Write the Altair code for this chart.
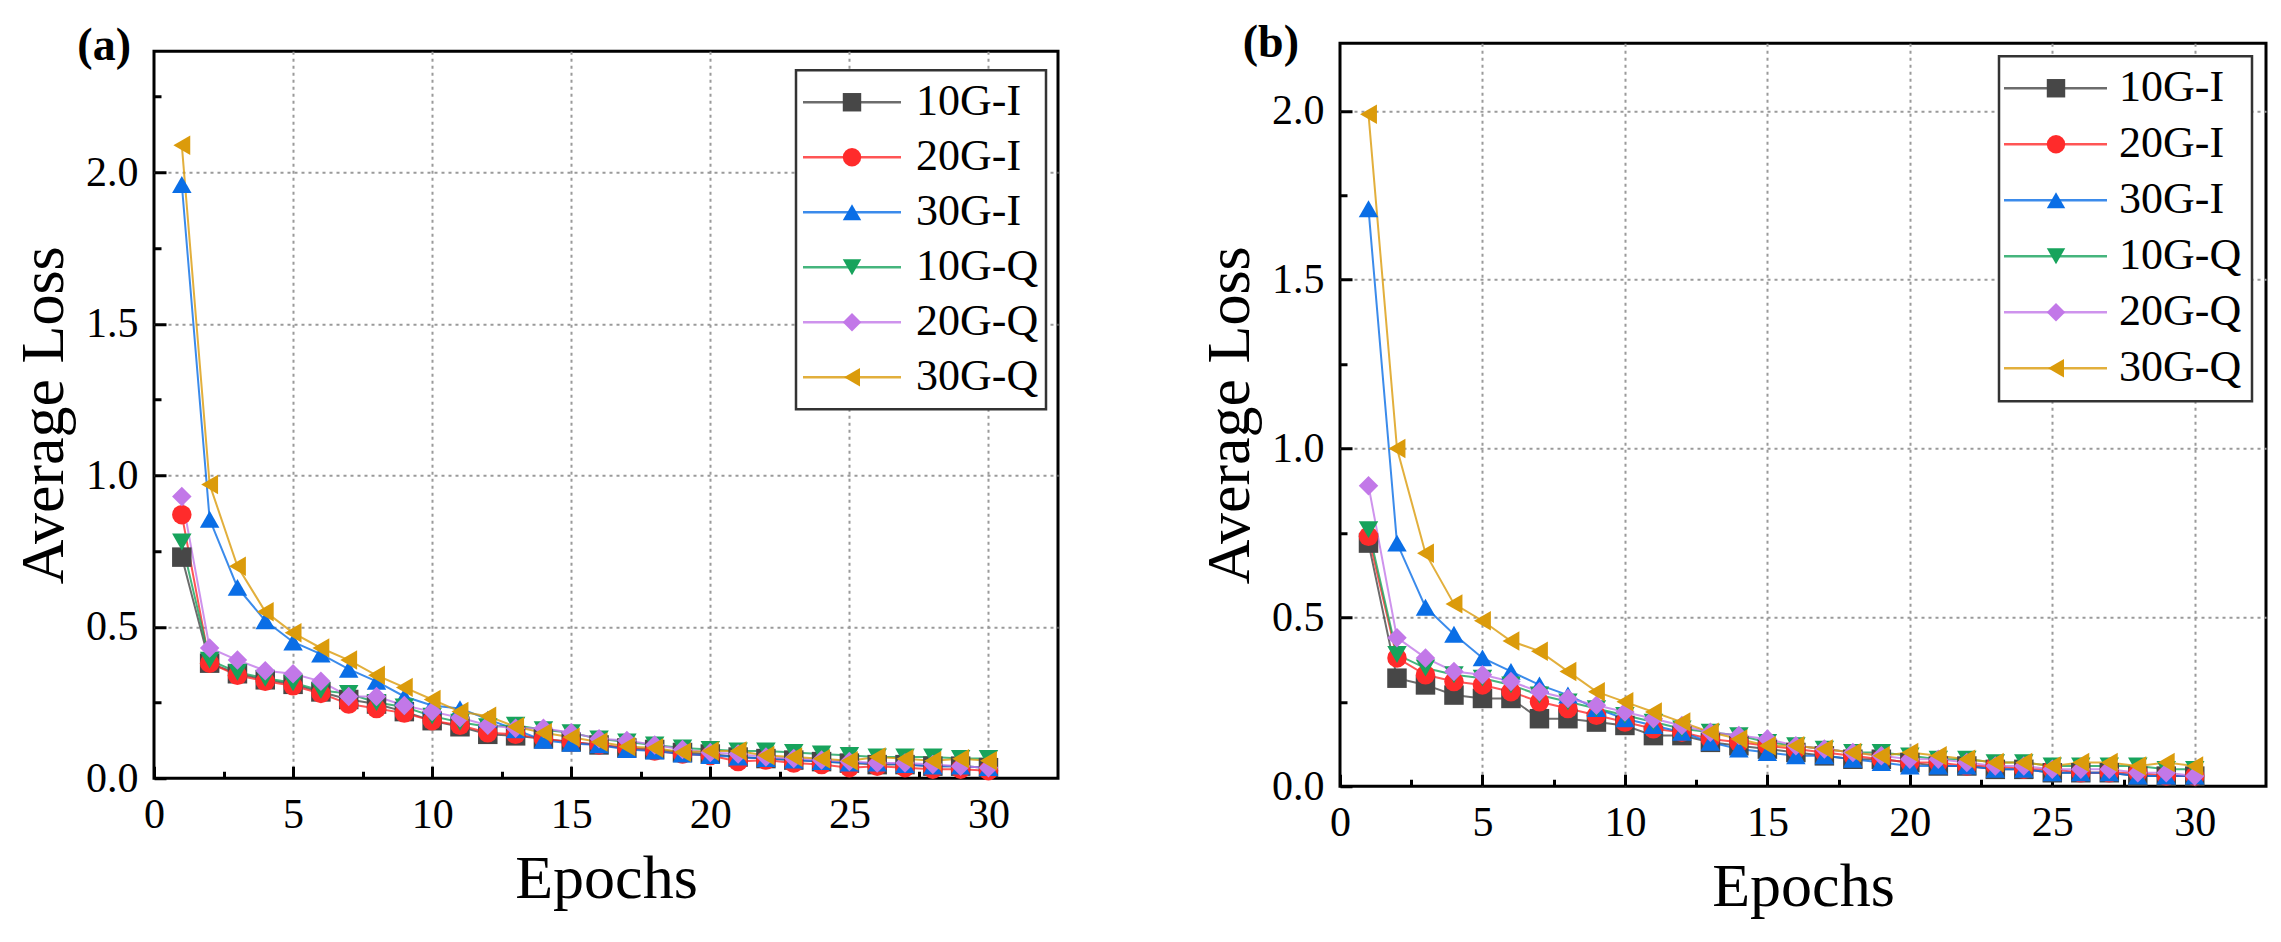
import altair as alt
import pandas as pd

FONT = "Times New Roman, Liberation Serif, serif"

SERIES = ["10G-I", "20G-I", "30G-I", "10G-Q", "20G-Q", "30G-Q"]
COLORS = ["#474747", "#ff2b2b", "#0a6ee6", "#17a35c", "#c278e8", "#db9b0b"]
SHAPES = ["square", "circle", "triangle-up", "triangle-down", "diamond", "triangle-left"]

EPOCHS = [1, 2, 3, 4, 5, 6, 7, 8, 9, 10, 11, 12, 13, 14, 15,
          16, 17, 18, 19, 20, 21, 22, 23, 24, 25, 26, 27, 28, 29, 30]

# ---- panel (a) ----
A_10GI = [0.73, 0.38, 0.345, 0.325, 0.31, 0.285, 0.26, 0.245, 0.22, 0.19, 0.17, 0.145, 0.14, 0.13, 0.12,
          0.11, 0.10, 0.095, 0.085, 0.08, 0.07, 0.065, 0.06, 0.055, 0.05, 0.045, 0.045, 0.04, 0.04, 0.035]
A_20GI = [0.87, 0.38, 0.34, 0.32, 0.305, 0.28, 0.245, 0.23, 0.215, 0.19, 0.175, 0.15, 0.145, 0.13, 0.12,
          0.11, 0.10, 0.09, 0.08, 0.075, 0.055, 0.06, 0.05, 0.045, 0.035, 0.04, 0.035, 0.03, 0.03, 0.025]
A_30GI = [1.96, 0.855, 0.63, 0.52, 0.45, 0.41, 0.36, 0.32, 0.27, 0.24, 0.23, 0.195, 0.16, 0.125, 0.115,
          0.11, 0.095, 0.09, 0.08, 0.075, 0.07, 0.065, 0.06, 0.055, 0.05, 0.05, 0.045, 0.04, 0.04, 0.035]
A_10GQ = [0.78, 0.39, 0.35, 0.33, 0.315, 0.29, 0.28, 0.25, 0.235, 0.205, 0.185, 0.17, 0.175, 0.16, 0.15,
          0.13, 0.12, 0.11, 0.10, 0.095, 0.09, 0.09, 0.085, 0.08, 0.075, 0.07, 0.07, 0.07, 0.065, 0.065]
A_20GQ = [0.93, 0.43, 0.39, 0.355, 0.345, 0.32, 0.27, 0.27, 0.24, 0.22, 0.20, 0.175, 0.165, 0.165, 0.15,
          0.13, 0.125, 0.11, 0.095, 0.085, 0.08, 0.07, 0.065, 0.06, 0.055, 0.05, 0.05, 0.045, 0.04, 0.035]
A_30GQ = [2.09, 0.97, 0.70, 0.55, 0.48, 0.43, 0.39, 0.34, 0.30, 0.26, 0.22, 0.205, 0.17, 0.15, 0.135,
          0.12, 0.105, 0.10, 0.086, 0.09, 0.09, 0.075, 0.07, 0.064, 0.058, 0.07, 0.064, 0.058, 0.064, 0.058]

# ---- panel (b) ----
B_10GI = [0.72, 0.32, 0.30, 0.27, 0.26, 0.26, 0.20, 0.20, 0.19, 0.18, 0.15, 0.15, 0.13, 0.12, 0.11,
          0.10, 0.09, 0.08, 0.08, 0.07, 0.06, 0.06, 0.05, 0.05, 0.04, 0.04, 0.04, 0.03, 0.03, 0.03]
B_20GI = [0.74, 0.38, 0.33, 0.31, 0.30, 0.28, 0.25, 0.23, 0.21, 0.19, 0.17, 0.16, 0.14, 0.13, 0.12,
          0.11, 0.10, 0.09, 0.08, 0.07, 0.07, 0.06, 0.06, 0.05, 0.05, 0.04, 0.04, 0.04, 0.03, 0.03]
B_30GI = [1.71, 0.72, 0.53, 0.45, 0.38, 0.34, 0.30, 0.27, 0.23, 0.20, 0.18, 0.16, 0.13, 0.11, 0.10,
          0.09, 0.09, 0.08, 0.07, 0.06, 0.06, 0.06, 0.05, 0.05, 0.04, 0.04, 0.04, 0.03, 0.03, 0.03]
B_10GQ = [0.76, 0.39, 0.35, 0.33, 0.32, 0.30, 0.27, 0.25, 0.23, 0.21, 0.19, 0.17, 0.16, 0.15, 0.13,
          0.12, 0.11, 0.10, 0.10, 0.09, 0.08, 0.08, 0.07, 0.07, 0.06, 0.06, 0.06, 0.06, 0.05, 0.05]
B_20GQ = [0.89, 0.44, 0.38, 0.34, 0.33, 0.31, 0.28, 0.26, 0.24, 0.22, 0.20, 0.18, 0.16, 0.15, 0.14,
          0.12, 0.11, 0.10, 0.09, 0.08, 0.08, 0.07, 0.06, 0.06, 0.05, 0.05, 0.05, 0.04, 0.04, 0.03]
B_30GQ = [1.99, 1.00, 0.69, 0.54, 0.49, 0.43, 0.40, 0.34, 0.28, 0.25, 0.22, 0.19, 0.16, 0.14, 0.12,
          0.12, 0.11, 0.10, 0.09, 0.10, 0.09, 0.08, 0.07, 0.07, 0.06, 0.07, 0.07, 0.06, 0.07, 0.06]

X_LABELS = [0, 5, 10, 15, 20, 25, 30]
X_TICKS = [0, 2.5, 5, 7.5, 10, 12.5, 15, 17.5, 20, 22.5, 25, 27.5, 30]
Y_LABELS = [0.0, 0.5, 1.0, 1.5, 2.0]
Y_TICKS_A = [0, 0.25, 0.5, 0.75, 1.0, 1.25, 1.5, 1.75, 2.0, 2.25]
Y_TICKS_B = [0, 0.25, 0.5, 0.75, 1.0, 1.25, 1.5, 1.75, 2.0]


def long_df(cols):
    rows = []
    for s, vals in zip(SERIES, cols):
        for e, v in zip(EPOCHS, vals):
            rows.append({"series": s, "epoch": e, "loss": v})
    return pd.DataFrame(rows)


color_enc = alt.Color("series:N", scale=alt.Scale(domain=SERIES, range=COLORS), legend=None)
shape_enc = alt.Shape("series:N", scale=alt.Scale(domain=SERIES, range=SHAPES), legend=None)


def panel(df, W, H, ymax, yticks, label, lab_dx, lab_dy, leg):
    xs = alt.Scale(domain=[0, 32.5], nice=False, zero=False)
    ys = alt.Scale(domain=[0, ymax], nice=False, zero=False)
    grid_color = {"condition": {"test": "datum.value === 0", "value": "transparent"}, "value": "#9a9a9a"}

    lines = alt.Chart(df).mark_line(strokeWidth=2, opacity=0.8).encode(
        x=alt.X("epoch:Q", scale=xs, axis=alt.Axis(
            orient="bottom", values=X_LABELS, ticks=False, tickSize=0, domain=False,
            grid=True, gridDash=[3, 4], gridColor=grid_color, gridWidth=2,
            labelFont=FONT, labelFontSize=42, labelPadding=16, labelColor="black",
            labelFlush=False, labelOverlap=False,
            title="Epochs", titleFont=FONT, titleFontSize=62, titleFontWeight="normal",
            titleColor="black", titleBaseline="alphabetic", titleX=W / 2, titleY=119)),
        y=alt.Y("loss:Q", scale=ys, axis=alt.Axis(
            orient="left", values=Y_LABELS, format=".1f", ticks=False, tickSize=0, domain=False,
            grid=True, gridDash=[3, 4], gridColor=grid_color, gridWidth=2,
            labelFont=FONT, labelFontSize=42, labelPadding=16, labelColor="black",
            labelFlush=False, labelOverlap=False,
            title="Average Loss", titleFont=FONT, titleFontSize=62, titleFontWeight="normal",
            titleColor="black", titleAngle=-90, titleAlign="center", titleBaseline="alphabetic",
            titleX=-92, titleY=H / 2)),
        color=color_enc,
    )

    pts = alt.Chart(df).mark_point(filled=True, size=380, opacity=1).encode(
        x=alt.X("epoch:Q", scale=xs, axis=alt.Axis(
            orient="top", offset=-H, values=X_TICKS, labels=False, domain=False, grid=False,
            ticks=True, tickColor="black", tickWidth=3,
            tickSize={"condition": {"test": "datum.value % 5 === 0", "value": 12}, "value": 7},
            title=None)),
        y=alt.Y("loss:Q", scale=ys, axis=alt.Axis(
            orient="right", offset=-W, values=yticks, labels=False, domain=False, grid=False,
            ticks=True, tickColor="black", tickWidth=3,
            tickSize={"condition": {"test": "datum.value % 0.5 === 0", "value": 12}, "value": 7},
            title=None)),
        color=color_enc,
        shape=shape_enc,
    )

    leg_df = pd.DataFrame({"series": SERIES, "row": [0, 1, 2, 3, 4, 5]})
    box = alt.Chart(pd.DataFrame({"k": [0]})).mark_rect(
        fill="white", stroke="#333333", strokeWidth=2.5).encode(
        x=alt.value(leg["bx1"]), x2=alt.value(leg["bx2"]),
        y=alt.value(leg["by1"]), y2=alt.value(leg["by2"]))
    leg_base = alt.Chart(leg_df).transform_calculate(
        ly=f"{leg['r0']} + datum.row * {leg['dr']}")
    leg_lines = leg_base.mark_rule(strokeWidth=2.5, opacity=0.8).encode(
        x=alt.value(leg["lx1"]), x2=alt.value(leg["lx2"]),
        y=alt.Y("ly:Q", scale=None, axis=None), color=color_enc)
    leg_pts = leg_base.mark_point(filled=True, size=340, opacity=1).encode(
        x=alt.value(leg["sx"]), y=alt.Y("ly:Q", scale=None, axis=None),
        color=color_enc, shape=shape_enc)
    leg_txt = leg_base.mark_text(
        align="left", baseline="middle", font=FONT, fontSize=44, color="black").encode(
        x=alt.value(leg["tx"]), y=alt.Y("ly:Q", scale=None, axis=None), text="series:N")

    lab = alt.Chart(pd.DataFrame({"k": [0]})).mark_text(
        text=label, font=FONT, fontSize=46, fontWeight="bold", align="right",
        baseline="middle", color="black").encode(
        x=alt.value(lab_dx), y=alt.value(lab_dy))

    return alt.layer(lines, pts, box, leg_lines, leg_pts, leg_txt, lab).resolve_axis(
        x="independent", y="independent").properties(width=W, height=H)


df_a = long_df([A_10GI, A_20GI, A_30GI, A_10GQ, A_20GQ, A_30GQ])
df_b = long_df([B_10GI, B_20GI, B_30GI, B_10GQ, B_20GQ, B_30GQ])

leg_a = dict(bx1=642, bx2=892, by1=19, by2=358, lx1=649, lx2=747, sx=698, tx=762, r0=51, dr=55)
leg_b = dict(bx1=659, bx2=912, by1=13, by2=358, lx1=664, lx2=767, sx=716, tx=779, r0=45, dr=56)

pa = panel(df_a, 904, 727, 2.4, Y_TICKS_A, "(a)", -23, -5, leg_a)
pb = panel(df_b, 926, 743, 2.2, Y_TICKS_B, "(b)", -41, 0, leg_b)

chart = alt.hconcat(pa, pb, spacing=136, center=True).properties(
    padding={"left": 2, "top": 10, "right": 5, "bottom": 5}, background="white"
).configure_view(stroke="black", strokeWidth=3)

chart.save("out.html", embed_options={"renderer": "svg", "actions": False})
